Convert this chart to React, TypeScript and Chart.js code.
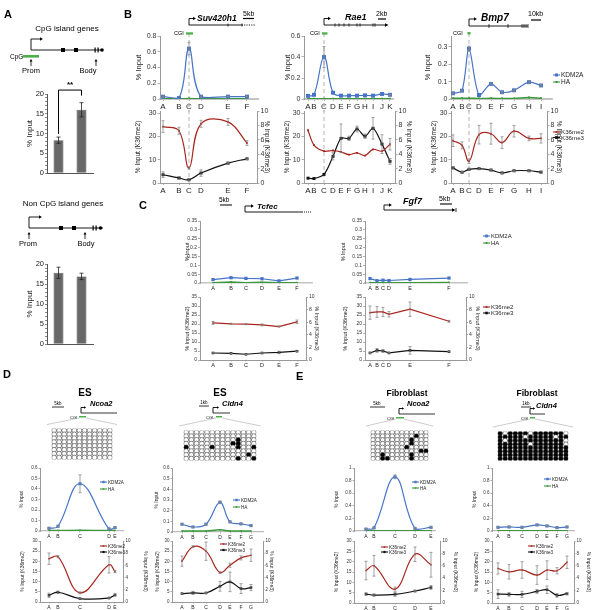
import React, { useEffect, useRef } from 'react';
import { Chart, registerables } from 'chart.js';

Chart.register(...registerables);

const FONT = '"Liberation Sans", Arial, Helvetica, sans-serif';
const BLUE = '#4674c8';
const GREEN = '#3a9a3a';
const CGI_GREEN = '#4daf4a';
const RED = '#a9261e';
const BLACK = '#111111';
const AXIS = '#9a9a9a';
const ERR = '#8a8a8a';

// ---------------- Panel A data ----------------
const barCats = ['Prom', 'Body'];
const barTicks = [0, 1, 2, 3, 4, 5, 6, 7, 8, 9, 10, 11, 12, 13, 14, 15, 16, 17, 18, 19, 20];
const cpgInput = [8.3, 16.0];
const cpgInputErr = [0.8, 1.8];
const cpgSig = { from: 0, to: 1, top: 21, leftEnd: 9.9, rightEnd: 19.6, text: '**' };
const nonCpgInput = [17.8, 16.9];
const nonCpgInputErr = [1.4, 0.8];

// ---------------- Panel B data ----------------
const suvLabels = ['A', 'B', 'C', 'D', 'E', 'F'];
const suvPos = [0.3, 1.9, 2.9, 4.1, 6.8, 8.7];
const suvKDM2A = [0.03, 0.012, 0.64, 0.03, 0.03, 0.03];
const suvKDM2AErr = [0.01, 0, 0.08, 0.01, 0.005, 0.005];
const suvHA = [0.004, 0.003, 0.005, 0.003, 0.003, 0.003];
const suvK36me2 = [24.3, 22.5, 6.5, 25.5, 26.3, 17.2];
const suvK36me2Err = [2.5, 1.5, 0.5, 1.5, 1.5, 1];
const suvK36me3 = [1.15, 0.7, 0.46, 1.38, 2.76, 3.36];
const suvK36me3Err = [0.4, 0.2, 0.15, 0.45, 0.1, 0.1];

const raeLabels = ['A', 'B', 'C', 'D', 'E', 'F', 'G', 'H', 'I', 'J', 'K'];
const raePos = [0.4, 1.0, 2.0, 2.9, 3.7, 4.5, 5.3, 6.1, 6.9, 7.8, 8.6];
const raeKDM2A = [0.03, 0.04, 0.4, 0.06, 0.032, 0.032, 0.032, 0.035, 0.032, 0.048, 0.04];
const raeKDM2AErr = [0, 0, 0.1, 0, 0, 0, 0, 0, 0, 0, 0.005];
const raeHA = [0.003, 0.003, 0.003, 0.003, 0.003, 0.003, 0.003, 0.003, 0.003, 0.003, 0.003];
const raeK36me2 = [22.7, 16.3, 13.7, 14, 13.4, 12.2, 13, 11.8, 14.5, 13.7, 16.7];
const raeK36me2Err = [0, 0, 0, 0, 0, 0, 0, 0, 0, 0, 2.5];
const raeK36me3 = [0.67, 0.62, 1.2, 3.7, 6.2, 6.2, 7.5, 6.5, 7.6, 5.4, 3.0];
const raeK36me3Err = [0, 0, 0, 0.5, 2, 0.3, 0.4, 0.3, 1.5, 1.3, 0.4];

const bmpLabels = ['A', 'B', 'C', 'D', 'E', 'F', 'G', 'H', 'I'];
const bmpPos = [0.2, 1.1, 1.8, 2.8, 4.0, 5.1, 6.3, 7.8, 9.0];
const bmpKDM2A = [0.033, 0.048, 0.29, 0.023, 0.087, 0.039, 0.05, 0.097, 0.078];
const bmpKDM2AErr = [0.005, 0.006, 0.015, 0, 0.005, 0.005, 0.007, 0.008, 0.005];
const bmpHA = [0.004, 0.004, 0.005, 0.003, 0.004, 0.003, 0.003, 0.008, 0.004];
const bmpK36me2 = [18.2, 16.2, 9.4, 20.8, 21.2, 17.4, 22.3, 19.2, 19.2];
const bmpK36me2Err = [2.5, 1.5, 1, 4, 4.5, 2.5, 2.5, 1, 2];
const bmpK36me3 = [2.1, 1.5, 1.9, 2.0, 1.8, 1.4, 1.7, 1.7, 1.5];
const bmpK36me3Err = [0.15, 0.1, 0.1, 0.1, 0.1, 0.1, 0.1, 0.1, 0.15];

// ---------------- Panel C data ----------------
const tcfLabels = ['A', 'B', 'C', 'D', 'E', 'F'];
const tcfPos = [1.3, 3.1, 4.6, 6.2, 7.9, 9.7];
const tcfKDM2A = [0.019, 0.03, 0.026, 0.024, 0.012, 0.028];
const tcfHA = [0.001, 0.006, 0.001, 0.004, 0.002, 0.002];
const tcfK36me2 = [20.6, 20.1, 19.9, 19.5, 18.6, 21.2];
const tcfK36me2Err = [0.8, 0.3, 0.3, 0.5, 0.3, 1];
const tcfK36me3 = [1.11, 1.06, 0.91, 1.11, 1.2, 1.4];
const tcfK36me3Err = [0.05, 0.05, 0.05, 0.05, 0.2, 0.05];

const fgfLabels = ['A', 'B', 'C', 'D', 'E', 'F'];
const fgfPos = [0.5, 1.2, 1.8, 2.4, 4.5, 8.4];
const fgfKDM2A = [0.025, 0.013, 0.016, 0.014, 0.02, 0.028];
const fgfHA = [0.002, 0.002, 0.002, 0.002, 0.002, 0.003];
const fgfK36me2 = [26.3, 26.7, 26.7, 25.4, 28.2, 21.5];
const fgfK36me2Err = [3.7, 3, 2.5, 1.5, 4, 0.5];
const fgfK36me3 = [1.12, 1.53, 1.43, 1.12, 1.53, 1.32];
const fgfK36me3Err = [0.1, 0.3, 0.2, 0.05, 0.6, 0.05];

// ---------------- Panel D / E data ----------------
const ncoaLabels = ['A', 'B', 'C', 'D', 'E'];
const cldnLabels = ['A', 'B', 'C', 'D', 'E', 'F', 'G'];

const esNcoaPos = [0.9, 1.8, 4.0, 6.9, 7.5];
const esNcoaKDM2A = [0.026, 0.045, 0.45, 0.02, 0.032];
const esNcoaKDM2AErr = [0.005, 0.005, 0.085, 0.003, 0.005];
const esNcoaHA = [0.005, 0.005, 0.006, 0.005, 0.005];
const esNcoaK36me2 = [21.3, 22.3, 4.5, 18.3, 15];
const esNcoaK36me2Err = [2.8, 0.5, 0.5, 4, 0.5];
const esNcoaK36me3 = [1.1, 1.6, 0.55, 0.65, 1.15];
const esNcoaK36me3Err = [0.35, 0.2, 0.05, 0.05, 0.2];
const esNcoaMeth = [
  '000000000000',
  '000000000000',
  '000000000000',
  '000000000000',
  '000000000000',
  '000000000000',
  '000000000000',
  '000000000000',
];

const esCldnPos = [1.0, 2.1, 3.4, 4.8, 5.8, 6.9, 7.9];
const esCldnKDM2A = [0.073, 0.047, 0.073, 0.278, 0.095, 0.076, 0.06];
const esCldnKDM2AErr = [0.005, 0.005, 0.005, 0.012, 0.005, 0.005, 0.005];
const esCldnHA = [0.01, 0.01, 0.01, 0.02, 0.01, 0.01, 0.01];
const esCldnK36me2 = [20.1, 27.2, 25, 14.5, 18.1, 21.7, 23];
const esCldnK36me2Err = [2.5, 0.5, 4.5, 0.5, 1, 1, 3];
const esCldnK36me3 = [1.37, 1.5, 1.48, 2.58, 3.3, 2.2, 2.36];
const esCldnK36me3Err = [0.1, 0.25, 0.1, 0.8, 1.6, 0.8, 0.5];
const esCldnMeth = [
  '00000000000000',
  '00000000000000',
  '00000000001000',
  '00000000011000',
  '10000100001001',
  '00000000000000',
  '00000000000010',
  '00000000001001',
];

const fbNcoaPos = [1.2, 2.0, 4.1, 6.1, 7.7];
const fbNcoaKDM2A = [0.03, 0.05, 0.86, 0.04, 0.058];
const fbNcoaKDM2AErr = [0.01, 0.01, 0.03, 0.01, 0.01];
const fbNcoaHA = [0.003, 0.003, 0.003, 0.003, 0.003];
const fbNcoaK36me2 = [15.7, 18, 6.7, 23.6, 18.5];
const fbNcoaK36me2Err = [4.5, 5, 1, 3.5, 6];
const fbNcoaK36me3 = [1.44, 1.28, 1.39, 1.93, 2.5];
const fbNcoaK36me3Err = [0.2, 0.15, 0.3, 0.1, 0.3];
const fbNcoaMeth = [
  '000000000000',
  '000000000100',
  '000000001000',
  '000000001000',
  '000000010000',
  '000000000011',
  '001000001000',
  '001100001000',
];

const fbCldnPos = [0.6, 1.7, 3.0, 4.5, 5.5, 6.5, 7.5];
const fbCldnKDM2A = [0.058, 0.064, 0.058, 0.096, 0.08, 0.053, 0.064];
const fbCldnKDM2AErr = [0.01, 0.005, 0.005, 0.01, 0.01, 0.01, 0.005];
const fbCldnHA = [0.005, 0.005, 0.005, 0.005, 0.005, 0.005, 0.005];
const fbCldnK36me2 = [16.7, 15.1, 16, 13.5, 15.9, 15.6, 19.7];
const fbCldnK36me2Err = [2.7, 3.5, 4, 4.5, 4.5, 1.5, 3];
const fbCldnK36me3 = [1.44, 1.39, 1.39, 1.87, 2.14, 1.23, 1.5];
const fbCldnK36me3Err = [0.7, 0.3, 0.5, 0.3, 0.6, 0.3, 0.2];
const fbCldnMeth = [
  '10111101111110',
  '11111011111011',
  '10111111111110',
  '11111101111110',
  '11111111111111',
  '11111111111111',
  '11111111111111',
  '11111111111111',
];

// tick label arrays
const ticksB_suv = [0, 0.2, 0.4, 0.6, 0.8];
const ticksB_rae = [0, 0.2, 0.4, 0.6];
const ticksB_bmp = [0, 0.1, 0.2, 0.3];
const ticksB_left = [0, 10, 20, 30];
const ticksRight10 = [0, 2, 4, 6, 8, 10];
const ticksC_top = [0, 0.05, 0.1, 0.15, 0.2, 0.25, 0.3, 0.35];
const ticksC_left = [0, 5, 10, 15, 20, 25, 30, 35];
const ticksD_top06 = [0, 0.1, 0.2, 0.3, 0.4, 0.5, 0.6];
const ticksD_top1 = [0, 0.2, 0.4, 0.6, 0.8, 1];
const ticksD_left = [0, 5, 10, 15, 20, 25, 30];

// ---------------- plugins ----------------
const errorBars = {
  id: 'errorBars',
  afterDatasetsDraw(chart: any) {
    const ctx = chart.ctx;
    chart.data.datasets.forEach((ds: any, di: number) => {
      if (!ds.errors) return;
      const meta = chart.getDatasetMeta(di);
      const sc = chart.scales[meta.yAxisID];
      ctx.save();
      ctx.strokeStyle = ds.errorColor || ERR;
      ctx.lineWidth = ds.errorWidth || 0.8;
      const cap = ds.errorCap ?? 1.5;
      meta.data.forEach((el: any, i: number) => {
        const e = ds.errors[i];
        if (!e) return;
        const raw = ds.data[i];
        const v = typeof raw === 'number' ? raw : raw.y;
        const x = el.x;
        const ya = sc.getPixelForValue(v - e);
        const yb = sc.getPixelForValue(v + e);
        ctx.beginPath();
        ctx.moveTo(x, ya);
        ctx.lineTo(x, yb);
        ctx.moveTo(x - cap, ya);
        ctx.lineTo(x + cap, ya);
        ctx.moveTo(x - cap, yb);
        ctx.lineTo(x + cap, yb);
        ctx.stroke();
      });
      ctx.restore();
    });
  },
};

const vLine = {
  id: 'vLine',
  beforeDatasetsDraw(chart: any, _a: any, opts: any) {
    if (!opts || opts.value == null) return;
    const x = chart.scales.x.getPixelForValue(opts.value);
    const ctx = chart.ctx;
    ctx.save();
    ctx.strokeStyle = '#b4b4b4';
    ctx.lineWidth = 1;
    ctx.setLineDash([4, 3]);
    ctx.beginPath();
    ctx.moveTo(x, opts.fromTop ? 0 : chart.chartArea.top - 3);
    ctx.lineTo(x, opts.toBottom ? chart.height : chart.chartArea.bottom);
    ctx.stroke();
    ctx.restore();
  },
};

const bracket = {
  id: 'bracket',
  afterDatasetsDraw(chart: any, _a: any, opts: any) {
    if (!opts || opts.top == null) return;
    const meta = chart.getDatasetMeta(0);
    const xa = meta.data[opts.from].x;
    const xb = meta.data[opts.to].x;
    const y = chart.scales.y;
    const yt = y.getPixelForValue(opts.top);
    const yl = y.getPixelForValue(opts.leftEnd);
    const yr = y.getPixelForValue(opts.rightEnd);
    const ctx = chart.ctx;
    ctx.save();
    ctx.strokeStyle = '#000';
    ctx.lineWidth = 1;
    ctx.beginPath();
    ctx.moveTo(xa, yl);
    ctx.lineTo(xa, yt);
    ctx.lineTo(xb, yt);
    ctx.lineTo(xb, yr);
    ctx.stroke();
    ctx.fillStyle = '#000';
    ctx.font = `bold 8px ${FONT}`;
    ctx.textAlign = 'center';
    ctx.textBaseline = 'bottom';
    ctx.fillText(opts.text, (xa + xb) / 2, yt - 1);
    ctx.restore();
  },
};

function fmt(v: number) {
  return String(Math.round(v * 1000) / 1000);
}

function mkSeries(label: string, pos: number[], values: number[], errors: number[] | null, color: string, radius: number, axis: string, tension: number, width: number) {
  return {
    label,
    data: pos.map((x, i) => ({ x, y: values[i] })),
    errors,
    borderColor: color,
    backgroundColor: color,
    pointBackgroundColor: color,
    pointBorderColor: color,
    pointBorderWidth: 0,
    pointStyle: 'rect',
    pointRadius: radius,
    borderWidth: width,
    tension,
    yAxisID: axis,
    fill: false,
  };
}

function topSets(pos: number[], k: number[], kErr: number[] | null, ha: number[], tension: number, kr: number, hr: number) {
  return [
    mkSeries('KDM2A', pos, k, kErr, BLUE, kr, 'y', tension, 1.2),
    mkSeries('HA', pos, ha, null, GREEN, hr, 'y', tension, 1.5),
  ];
}

function botSets(pos: number[], m2: number[], m2e: number[], m3: number[], m3e: number[], tension: number, r2: number, r3: number) {
  return [
    mkSeries('K36me2', pos, m2, m2e, RED, r2, 'y', tension, 1.2),
    mkSeries('K36me3', pos, m3, m3e, BLACK, r3, 'y1', tension, 1.2),
  ];
}

function lineConfig(s: any) {
  const hasR = !!s.rTicks;
  const tickFont = { family: FONT, size: s.tickSize };
  const gridY = { display: true, drawOnChartArea: false, drawTicks: true, tickLength: s.yTickLen ?? 2, color: AXIS, lineWidth: 0.8 };
  const scales: any = {
    x: {
      type: 'linear',
      min: 0,
      max: s.xMax,
      afterBuildTicks: (sc: any) => {
        sc.ticks = s.xPos.map((v: number) => ({ value: v }));
      },
      afterFit: (sc: any) => {
        sc.height = s.padB;
      },
      ticks: {
        autoSkip: false,
        maxRotation: 0,
        minRotation: 0,
        padding: 1,
        color: '#222',
        font: { family: FONT, size: s.xTickSize },
        callback: (_v: any, i: number) => s.xLabels[i],
      },
      grid: { display: true, drawOnChartArea: false, drawTicks: true, tickLength: s.xTickLen ?? 2, color: AXIS, lineWidth: 0.8 },
      border: { display: true, color: s.xBorderColor ?? AXIS, width: s.xBorderWidth ?? 1 },
    },
    y: {
      type: 'linear',
      position: 'left',
      min: 0,
      max: s.yMax,
      afterBuildTicks: (sc: any) => {
        sc.ticks = s.yTicks.map((v: number) => ({ value: v }));
      },
      afterFit: (sc: any) => {
        sc.width = s.padL;
      },
      ticks: { autoSkip: false, padding: 1, color: '#333', font: tickFont, callback: (v: number) => fmt(v) },
      grid: gridY,
      border: { display: true, color: AXIS, width: 1 },
      title: { display: true, text: s.yTitle, padding: 0, color: '#222', font: { family: FONT, size: s.titleSize } },
    },
  };
  if (hasR) {
    scales.y1 = {
      type: 'linear',
      position: 'right',
      min: 0,
      max: s.rMax,
      afterBuildTicks: (sc: any) => {
        sc.ticks = s.rTicks.map((v: number) => ({ value: v }));
      },
      afterFit: (sc: any) => {
        sc.width = s.padR;
      },
      ticks: { autoSkip: false, padding: 1, color: '#333', font: tickFont, callback: (v: number) => fmt(v) },
      grid: gridY,
      border: { display: true, color: AXIS, width: 1 },
      title: { display: true, text: s.rTitle, padding: 0, color: '#222', font: { family: FONT, size: s.titleSize } },
    };
  }
  return {
    type: 'line',
    data: { datasets: s.datasets },
    options: {
      responsive: false,
      animation: false,
      devicePixelRatio: 1,
      events: [],
      layout: { padding: { top: s.padT, left: 0, right: hasR ? 0 : s.padR, bottom: 0 } },
      plugins: { legend: { display: false }, tooltip: { enabled: false }, vLine: s.vline ?? {} },
      scales,
    },
    plugins: [errorBars, vLine],
  };
}

function barConfig(s: any) {
  return {
    type: 'bar',
    data: {
      labels: barCats,
      datasets: [
        {
          data: s.values,
          errors: s.errors,
          errorColor: '#222',
          errorCap: 2,
          errorWidth: 0.8,
          backgroundColor: '#686868',
          borderColor: '#3c3c3c',
          borderWidth: 0.6,
          barPercentage: 0.43,
          categoryPercentage: 1,
        },
      ],
    },
    options: {
      responsive: false,
      animation: false,
      devicePixelRatio: 1,
      events: [],
      layout: { padding: { top: s.padT, left: 0, right: s.padR, bottom: 0 } },
      plugins: { legend: { display: false }, tooltip: { enabled: false }, bracket: s.bracket ?? {} },
      scales: {
        x: {
          afterFit: (sc: any) => {
            sc.height = s.padB;
          },
          ticks: { padding: 2, color: '#222', font: { family: FONT, size: 7.5 } },
          grid: { display: false },
          border: { display: true, color: '#555', width: 1 },
        },
        y: {
          min: 0,
          max: 20,
          afterBuildTicks: (sc: any) => {
            sc.ticks = barTicks.map((v) => ({ value: v }));
          },
          afterFit: (sc: any) => {
            sc.width = s.padL;
          },
          ticks: { autoSkip: false, padding: 1, color: '#222', font: { family: FONT, size: 7.5 }, callback: (v: number) => (v % 5 === 0 ? String(v) : '') },
          grid: { display: true, drawOnChartArea: false, drawTicks: true, tickLength: 2, color: '#555', lineWidth: 0.7 },
          border: { display: true, color: '#555', width: 1 },
          title: { display: true, text: '% Input', padding: 0, color: '#222', font: { family: FONT, size: 8 } },
        },
      },
    },
    plugins: [errorBars, bracket],
  };
}

function methConfig(rows: string[], r: number) {
  const cols = rows[0].length;
  const pts: any[] = [];
  const fills: string[] = [];
  rows.forEach((row, ri) => {
    row.split('').forEach((ch, ci) => {
      pts.push({ x: ci, y: ri });
      fills.push(ch === '1' ? '#000' : '#fff');
    });
  });
  return {
    type: 'scatter',
    data: {
      datasets: [
        {
          data: pts,
          pointRadius: r,
          pointBackgroundColor: fills,
          pointBorderColor: '#333',
          pointBorderWidth: 0.55,
          pointStyle: 'circle',
        },
      ],
    },
    options: {
      responsive: false,
      animation: false,
      devicePixelRatio: 1,
      events: [],
      layout: { padding: 0 },
      plugins: { legend: { display: false }, tooltip: { enabled: false } },
      scales: {
        x: { type: 'linear', display: false, min: -0.5, max: cols - 0.5 },
        y: { type: 'linear', display: false, reverse: true, min: -0.5, max: rows.length - 0.5 },
      },
    },
  };
}

function ChartCanvas({ make, left, top, width, height }: any) {
  const ref = useRef<HTMLCanvasElement | null>(null);
  useEffect(() => {
    if (!ref.current) return;
    const chart = new Chart(ref.current, make());
    return () => chart.destroy();
  }, []);
  return (
    <canvas
      ref={ref}
      width={Math.round(width)}
      height={Math.round(height)}
      style={{ position: 'absolute', left, top, width: Math.round(width), height: Math.round(height) }}
    />
  );
}

function LinePlot({ s }: any) {
  const left = s.x0 - s.padL;
  const top = s.y0 - s.padT;
  const width = s.padL + (s.x1 - s.x0) + s.padR;
  const height = s.padT + (s.y1 - s.y0) + s.padB;
  return <ChartCanvas make={() => lineConfig(s)} left={left} top={top} width={width} height={height} />;
}

function BarPlot({ s }: any) {
  const left = s.x0 - s.padL;
  const top = s.y0 - s.padT;
  const width = s.padL + (s.x1 - s.x0) + s.padR;
  const height = s.padT + (s.y1 - s.y0) + s.padB;
  return <ChartCanvas make={() => barConfig(s)} left={left} top={top} width={width} height={height} />;
}

function MethPlot({ rows, left, top, width, height, r }: any) {
  return <ChartCanvas make={() => methConfig(rows, r)} left={left} top={top} width={width} height={height} />;
}

// ---------------- chart specs ----------------
const bBase = { tickSize: 7, xTickSize: 8, padT: 8, padB: 13, xTickLen: 2, yTickLen: 2.5 };
const bTopBase = { ...bBase, y0: 36, y1: 99, padR: 6, titleSize: 7.5, yTitle: '% Input', xBorderColor: '#c4c4c4', xBorderWidth: 2 };
const bBotBase = { ...bBase, y0: 111, y1: 183, titleSize: 6.5, yMax: 31, yTicks: ticksB_left, yTitle: '% Input (K36me2)', rMax: 10, rTicks: ticksRight10, rTitle: '% Input (K36me3)' };

const suvTop = { ...bTopBase, x0: 160, x1: 258, padL: 26, xMax: 9.8, xPos: suvPos, xLabels: suvLabels, yMax: 0.8, yTicks: ticksB_suv, datasets: topSets(suvPos, suvKDM2A, suvKDM2AErr, suvHA, 0.4, 2.8, 1.4), vline: { value: suvPos[2], toBottom: true } };
const suvBot = { ...bBotBase, x0: 160, x1: 257, padL: 26, padR: 14, xMax: 9.7, xPos: suvPos, xLabels: suvLabels, datasets: botSets(suvPos, suvK36me2, suvK36me2Err, suvK36me3, suvK36me3Err, 0.4, 1.3, 2.1), vline: { value: suvPos[2], fromTop: true } };
const raeTop = { ...bTopBase, x0: 304, x1: 393, padL: 21, xMax: 8.9, xPos: raePos, xLabels: raeLabels, yMax: 0.6, yTicks: ticksB_rae, datasets: topSets(raePos, raeKDM2A, raeKDM2AErr, raeHA, 0.4, 2.8, 1.4), vline: { value: raePos[2], toBottom: true } };
const raeBot = { ...bBotBase, x0: 304, x1: 395, padL: 21, padR: 18, xMax: 9.1, xPos: raePos, xLabels: raeLabels, datasets: botSets(raePos, raeK36me2, raeK36me2Err, raeK36me3, raeK36me3Err, 0.3, 1.3, 2.1), vline: { value: raePos[2], fromTop: true } };
const bmpTop = { ...bTopBase, x0: 451, x1: 552, padL: 28, xMax: 10.1, xPos: bmpPos, xLabels: bmpLabels, yMax: 0.363, yTicks: ticksB_bmp, datasets: topSets(bmpPos, bmpKDM2A, bmpKDM2AErr, bmpHA, 0.3, 2.8, 1.4), vline: { value: bmpPos[2], toBottom: true } };
const bmpBot = { ...bBotBase, x0: 451, x1: 547, padL: 21, padR: 16, xMax: 9.6, xPos: bmpPos, xLabels: bmpLabels, datasets: botSets(bmpPos, bmpK36me2, bmpK36me2Err, bmpK36me3, bmpK36me3Err, 0.4, 1.3, 2.1), vline: { value: bmpPos[2], fromTop: true } };

const cBase = { tickSize: 5, xTickSize: 5.5, padT: 6, padB: 9, titleSize: 5.5, xTickLen: 1.5, yTickLen: 2 };
const cTopBase = { ...cBase, y0: 221, y1: 283, padR: 6, yMax: 0.35, yTicks: ticksC_top, yTitle: '% Input', xBorderColor: '#c4c4c4', xBorderWidth: 1.5 };
const cBotBase = { ...cBase, y0: 297, y1: 360, yMax: 35, yTicks: ticksC_left, yTitle: '% Input (K36me2)', rMax: 10, rTicks: ticksRight10, rTitle: '% Input (K36me3)' };
const tcfTop = { ...cTopBase, x0: 200, x1: 312, padL: 16, xMax: 11.2, xPos: tcfPos, xLabels: tcfLabels, datasets: topSets(tcfPos, tcfKDM2A, null, tcfHA, 0, 2.3, 1.2) };
const tcfBot = { ...cBotBase, x0: 200, x1: 306, padL: 16, padR: 14, xMax: 10.6, xPos: tcfPos, xLabels: tcfLabels, datasets: botSets(tcfPos, tcfK36me2, tcfK36me2Err, tcfK36me3, tcfK36me3Err, 0, 1.1, 1.8) };
const fgfTop = { ...cTopBase, x0: 365, x1: 467, padL: 25, xMax: 10.2, xPos: fgfPos, xLabels: fgfLabels, datasets: topSets(fgfPos, fgfKDM2A, null, fgfHA, 0, 2.3, 1.2) };
const fgfBot = { ...cBotBase, x0: 365, x1: 466, padL: 23, padR: 15, xMax: 10.1, xPos: fgfPos, xLabels: fgfLabels, datasets: botSets(fgfPos, fgfK36me2, fgfK36me2Err, fgfK36me3, fgfK36me3Err, 0, 1.1, 1.8) };

const dBase = { tickSize: 4.5, xTickSize: 5, padT: 6, padB: 8, titleSize: 5, xTickLen: 1.5, yTickLen: 1.5 };
const dTopBase = { ...dBase, y0: 468, padR: 6, yTitle: '% Input', xBorderColor: '#bbbbbb', xBorderWidth: 1.2 };
const dBotBase = { ...dBase, y0: 541, yMax: 30, yTicks: ticksD_left, yTitle: '% Input (K36me2)', rMax: 10, rTicks: ticksRight10, rTitle: '% Input (K36me3)' };

const esNcoaTop = { ...dTopBase, x0: 40, x1: 123, y1: 531, padL: 21, xMax: 8.3, xPos: esNcoaPos, xLabels: ncoaLabels, yMax: 0.6, yTicks: ticksD_top06, datasets: topSets(esNcoaPos, esNcoaKDM2A, esNcoaKDM2AErr, esNcoaHA, 0.4, 2.2, 1.1) };
const esNcoaBot = { ...dBotBase, x0: 40, x1: 123, y1: 602, padL: 20, padR: 25, xMax: 8.3, xPos: esNcoaPos, xLabels: ncoaLabels, datasets: botSets(esNcoaPos, esNcoaK36me2, esNcoaK36me2Err, esNcoaK36me3, esNcoaK36me3Err, 0.4, 1.1, 1.8) };
const esCldnTop = { ...dTopBase, x0: 172, x1: 263, y1: 532, padL: 18, xMax: 9.1, xPos: esCldnPos, xLabels: cldnLabels, yMax: 0.6, yTicks: ticksD_top06, datasets: topSets(esCldnPos, esCldnKDM2A, esCldnKDM2AErr, esCldnHA, 0.4, 2.2, 1.1) };
const esCldnBot = { ...dBotBase, x0: 172, x1: 263, y1: 602, padL: 17, padR: 11, xMax: 9.1, xPos: esCldnPos, xLabels: cldnLabels, datasets: botSets(esCldnPos, esCldnK36me2, esCldnK36me2Err, esCldnK36me3, esCldnK36me3Err, 0.4, 1.1, 1.8) };
const fbNcoaTop = { ...dTopBase, x0: 354, x1: 435, y1: 531, padL: 20, xMax: 8.1, xPos: fbNcoaPos, xLabels: ncoaLabels, yMax: 1, yTicks: ticksD_top1, datasets: topSets(fbNcoaPos, fbNcoaKDM2A, fbNcoaKDM2AErr, fbNcoaHA, 0.4, 2.2, 1.1) };
const fbNcoaBot = { ...dBotBase, x0: 354, x1: 440, y1: 603, padL: 20, padR: 18, xMax: 8.6, xPos: fbNcoaPos, xLabels: ncoaLabels, datasets: botSets(fbNcoaPos, fbNcoaK36me2, fbNcoaK36me2Err, fbNcoaK36me3, fbNcoaK36me3Err, 0.4, 1.1, 1.8) };
const fbCldnTop = { ...dTopBase, x0: 492, x1: 574, y1: 531, padL: 20, xMax: 8.2, xPos: fbCldnPos, xLabels: cldnLabels, yMax: 1, yTicks: ticksD_top1, datasets: topSets(fbCldnPos, fbCldnKDM2A, fbCldnKDM2AErr, fbCldnHA, 0.4, 2.2, 1.1) };
const fbCldnBot = { ...dBotBase, x0: 492, x1: 574, y1: 603, padL: 18, padR: 17, xMax: 8.2, xPos: fbCldnPos, xLabels: cldnLabels, datasets: botSets(fbCldnPos, fbCldnK36me2, fbCldnK36me2Err, fbCldnK36me3, fbCldnK36me3Err, 0.4, 1.1, 1.8) };

const cpgBars = { x0: 47, x1: 93, y0: 94, y1: 173, padL: 22, padR: 4, padT: 16, padB: 12, values: cpgInput, errors: cpgInputErr, bracket: cpgSig };
const nonCpgBars = { x0: 47, x1: 93, y0: 264, y1: 344, padL: 22, padR: 4, padT: 6, padB: 12, values: nonCpgInput, errors: nonCpgInputErr };

// ---------------- decorations ----------------
function TSS({ x, yb, yt, x2, s = 1.8 }: any) {
  return (
    <g>
      <polyline points={`${x},${yb} ${x},${yt} ${x2},${yt}`} fill="none" stroke="#000" strokeWidth={0.9} />
      <polygon points={`${x2},${yt - s} ${x2 + s * 1.6},${yt} ${x2},${yt + s}`} fill="#000" />
    </g>
  );
}

function UpArrow({ x, y1, y2 }: any) {
  return (
    <g>
      <line x1={x} y1={y1} x2={x} y2={y2 + 2} stroke="#000" strokeWidth={0.8} />
      <polygon points={`${x - 1.5},${y2 + 2.6} ${x},${y2} ${x + 1.5},${y2 + 2.6}`} fill="#000" />
    </g>
  );
}

function Leg({ x, y, color, label, size, len = 7, mk = 2 }: any) {
  return (
    <g>
      <line x1={x} y1={y} x2={x + len} y2={y} stroke={color} strokeWidth={1.1} />
      <rect x={x + len / 2 - mk / 2} y={y - mk / 2} width={mk} height={mk} fill={color} />
      <text x={x + len + 1} y={y + size * 0.36} fontSize={size} fill="#222">
        {label}
      </text>
    </g>
  );
}

function Decor() {
  const bi = { fontWeight: 'bold', fontStyle: 'italic' } as any;
  return (
    <svg width={606} height={610} style={{ position: 'absolute', left: 0, top: 0, pointerEvents: 'none' }} fontFamily={FONT}>
      {/* panel letters */}
      <text x={4} y={18} fontSize={11} fontWeight="bold">A</text>
      <text x={124} y={18} fontSize={11} fontWeight="bold">B</text>
      <text x={139} y={209} fontSize={11} fontWeight="bold">C</text>
      <text x={3} y={378} fontSize={11} fontWeight="bold">D</text>
      <text x={296} y={380} fontSize={11} fontWeight="bold">E</text>

      {/* Panel A - CpG island genes */}
      <text x={67} y={31} fontSize={8} textAnchor="middle">CpG island genes</text>
      <line x1={31} y1={50} x2={103} y2={50} stroke="#000" strokeWidth={0.9} />
      <TSS x={31} yb={50} yt={39} x2={40} />
      <rect x={61} y={48} width={4} height={4} />
      <rect x={74} y={48} width={4} height={4} />
      <rect x={94.5} y={47.5} width={1.2} height={5} />
      <rect x={97.5} y={47.5} width={1.2} height={5} />
      <circle cx={102} cy={50} r={1.8} />
      <rect x={23} y={55} width={16} height={2.6} fill={CGI_GREEN} />
      <text x={10} y={58.5} fontSize={6.5}>CpG</text>
      <UpArrow x={31} y1={66} y2={59} />
      <UpArrow x={96} y1={66} y2={59} />
      <text x={31} y={73} fontSize={7.5} textAnchor="middle">Prom</text>
      <text x={88} y={73} fontSize={7.5} textAnchor="middle">Body</text>

      {/* Panel A - Non CpG island genes */}
      <text x={63} y={206} fontSize={8} textAnchor="middle">Non CpG island genes</text>
      <line x1={29} y1={228} x2={103} y2={228} stroke="#000" strokeWidth={0.9} />
      <TSS x={29} yb={228} yt={217} x2={39} />
      <rect x={59} y={226} width={4} height={4} />
      <rect x={72} y={226} width={4} height={4} />
      <rect x={92.5} y={225.5} width={1.2} height={5} />
      <rect x={95.5} y={225.5} width={1.2} height={5} />
      <circle cx={100.5} cy={228} r={1.8} />
      <UpArrow x={29} y1={239} y2={232} />
      <UpArrow x={85} y1={239} y2={232} />
      <text x={28} y={246} fontSize={7.5} textAnchor="middle">Prom</text>
      <text x={86} y={246} fontSize={7.5} textAnchor="middle">Body</text>

      {/* Panel B - Suv420h1 */}
      <line x1={189} y1={25} x2={243} y2={25} stroke="#000" strokeWidth={0.9} />
      <line x1={244} y1={25} x2={256} y2={25} stroke="#000" strokeWidth={0.9} strokeDasharray="1.2,1.2" />
      <line x1={228} y1={23.5} x2={228} y2={26.5} stroke="#000" strokeWidth={0.8} />
      <line x1={242} y1={23.5} x2={242} y2={26.5} stroke="#000" strokeWidth={0.8} />
      <TSS x={189} yb={25} yt={18.5} x2={193} />
      <text x={197} y={20.5} fontSize={8.5} {...bi}>Suv420h1</text>
      <text x={243} y={15.5} fontSize={7}>5kb</text>
      <line x1={243} y1={18.5} x2={254} y2={18.5} stroke="#000" strokeWidth={1.2} />
      <text x={174} y={35} fontSize={5.5}>CGI</text>
      <rect x={186} y={32.3} width={7} height={2.3} fill={CGI_GREEN} />

      {/* Panel B - Rae1 */}
      <line x1={324} y1={25} x2={386} y2={25} stroke="#000" strokeWidth={0.9} />
      <polygon points="385,23.3 388.5,25 385,26.7" fill="#000" />
      {[335, 339, 344, 349, 357, 360, 373, 375].map((x) => (
        <line key={x} x1={x} y1={23.3} x2={x} y2={26.7} stroke="#000" strokeWidth={0.7} />
      ))}
      <TSS x={324} yb={25} yt={18.5} x2={328} />
      <text x={345} y={19.5} fontSize={9} {...bi}>Rae1</text>
      <text x={376} y={16} fontSize={7}>2kb</text>
      <line x1={378} y1={19} x2={386} y2={19} stroke="#000" strokeWidth={1.2} />
      <text x={310} y={35} fontSize={5.5}>CGI</text>
      <rect x={322} y={32.3} width={5.5} height={2.3} fill={CGI_GREEN} />

      {/* Panel B - Bmp7 */}
      <line x1={469} y1={26} x2={528} y2={26} stroke="#000" strokeWidth={0.9} />
      {[489, 508, 522, 524, 526, 528].map((x) => (
        <line key={x} x1={x} y1={24} x2={x} y2={28} stroke="#000" strokeWidth={0.7} />
      ))}
      <TSS x={469} yb={26} yt={19} x2={474} />
      <text x={481} y={20.5} fontSize={10} {...bi}>Bmp7</text>
      <text x={528} y={16} fontSize={7}>10kb</text>
      <line x1={531} y1={20} x2={541} y2={20} stroke="#000" strokeWidth={1.2} />
      <text x={453} y={35} fontSize={5.5}>CGI</text>
      <rect x={467.5} y={32} width={3} height={2.5} fill={CGI_GREEN} />

      {/* Panel B legends */}
      <Leg x={553} y={75} color={BLUE} label="KDM2A" size={6.5} mk={3} />
      <Leg x={553} y={82} color={GREEN} label="HA" size={6.5} mk={2} />
      <Leg x={553} y={132} color={RED} label="K36me2" size={6.2} mk={1.8} />
      <Leg x={553} y={137.5} color={BLACK} label="K36me3" size={6.2} mk={2.8} />

      {/* Panel C - Tcfec */}
      <text x={219} y={202} fontSize={6.5}>5kb</text>
      <line x1={220} y1={205} x2={232} y2={205} stroke="#000" strokeWidth={1} />
      <line x1={245} y1={212} x2={303} y2={212} stroke="#000" strokeWidth={0.9} />
      <line x1={304} y1={212} x2={311} y2={212} stroke="#000" strokeWidth={0.9} strokeDasharray="1,1" />
      <TSS x={245} yb={212} yt={206} x2={251} />
      <text x={257} y={208.5} fontSize={8} {...bi}>Tcfec</text>

      {/* Panel C - Fgf7 */}
      <line x1={384} y1={210} x2={454} y2={210} stroke="#000" strokeWidth={0.9} />
      <polygon points="452,208.3 455.5,210 452,211.7" fill="#000" />
      <line x1={456} y1={208} x2={456} y2={212} stroke="#000" strokeWidth={0.8} />
      <TSS x={384} yb={210} yt={205} x2={389} />
      <text x={403} y={204} fontSize={9} {...bi}>Fgf7</text>
      <text x={439} y={201} fontSize={7}>5kb</text>
      <line x1={440} y1={204} x2={452} y2={204} stroke="#000" strokeWidth={1.1} />

      {/* Panel C legends */}
      <Leg x={483} y={236} color={BLUE} label="KDM2A" size={6} mk={2.8} />
      <Leg x={483} y={243} color={GREEN} label="HA" size={6} mk={1.8} />
      <Leg x={483} y={307} color={RED} label="K36me2" size={6} mk={1.8} />
      <Leg x={483} y={313} color={BLACK} label="K36me3" size={6} mk={2.6} />

      {/* Panel D/E titles */}
      <text x={85} y={396} fontSize={10} fontWeight="bold" textAnchor="middle">ES</text>
      <text x={220} y={396} fontSize={10} fontWeight="bold" textAnchor="middle">ES</text>
      <text x={407} y={396} fontSize={8.5} fontWeight="bold" textAnchor="middle">Fibroblast</text>
      <text x={537} y={396} fontSize={8.5} fontWeight="bold" textAnchor="middle">Fibroblast</text>

      {/* ES Ncoa2 gene */}
      <text x={58} y={405} fontSize={4.5} textAnchor="middle">5kb</text>
      <line x1={52} y1={407} x2={64} y2={407} stroke="#000" strokeWidth={0.8} />
      <line x1={81} y1={413} x2={117} y2={413} stroke="#000" strokeWidth={0.8} />
      <TSS x={81} yb={413} yt={407.5} x2={84} s={1.3} />
      <text x={90} y={406} fontSize={7.5} {...bi}>Ncoa2</text>
      <text x={70} y={418.5} fontSize={4}>CGI</text>
      <rect x={79} y={416} width={7} height={1.5} fill={CGI_GREEN} />
      <line x1={79} y1={418} x2={47} y2={424.5} stroke="#aaa" strokeWidth={0.6} />
      <line x1={86} y1={418} x2={117} y2={424.5} stroke="#aaa" strokeWidth={0.6} />

      {/* ES Cldn4 gene */}
      <text x={204} y={404} fontSize={4.5} textAnchor="middle">1kb</text>
      <line x1={199} y1={406} x2={209} y2={406} stroke="#000" strokeWidth={0.8} />
      <line x1={213} y1={413} x2={230} y2={413} stroke="#000" strokeWidth={0.8} />
      <TSS x={213} yb={413} yt={407.5} x2={217} s={1.3} />
      <text x={222} y={406} fontSize={7.5} {...bi}>Cldn4</text>
      <text x={206} y={418.5} fontSize={4}>CGI</text>
      <rect x={216} y={416} width={6} height={1.5} fill={CGI_GREEN} />
      <line x1={216} y1={418} x2={179} y2={426} stroke="#aaa" strokeWidth={0.6} />
      <line x1={222} y1={418} x2={261} y2={426} stroke="#aaa" strokeWidth={0.6} />

      {/* Fib Ncoa2 gene */}
      <text x={377} y={405} fontSize={4.5} textAnchor="middle">5kb</text>
      <line x1={370} y1={407} x2={385} y2={407} stroke="#000" strokeWidth={0.8} />
      <line x1={399} y1={414} x2={435} y2={414} stroke="#000" strokeWidth={0.8} />
      <TSS x={399} yb={414} yt={408.5} x2={402} s={1.3} />
      <text x={407} y={406} fontSize={7.5} {...bi}>Ncoa2</text>
      <text x={387} y={419.5} fontSize={4}>CGI</text>
      <rect x={396} y={417} width={8} height={1.5} fill={CGI_GREEN} />
      <line x1={396} y1={419} x2={366} y2={426} stroke="#aaa" strokeWidth={0.6} />
      <line x1={404} y1={419} x2={433} y2={426} stroke="#aaa" strokeWidth={0.6} />

      {/* Fib Cldn4 gene */}
      <text x={526} y={405} fontSize={4.5} textAnchor="middle">1kb</text>
      <line x1={521} y1={407} x2={531} y2={407} stroke="#000" strokeWidth={0.8} />
      <line x1={530} y1={414} x2={545} y2={414} stroke="#000" strokeWidth={0.8} />
      <TSS x={530} yb={414} yt={408.5} x2={533} s={1.3} />
      <text x={536} y={408} fontSize={7.5} {...bi}>Cldn4</text>
      <text x={521} y={419.5} fontSize={4}>CGI</text>
      <rect x={530} y={417} width={5} height={1.5} fill={CGI_GREEN} />
      <line x1={530} y1={419} x2={493} y2={427} stroke="#aaa" strokeWidth={0.6} />
      <line x1={535} y1={419} x2={573} y2={427} stroke="#aaa" strokeWidth={0.6} />

      {/* D/E legends */}
      <Leg x={100} y={482} color={BLUE} label="KDM2A" size={4.6} mk={2.4} />
      <Leg x={100} y={489} color={GREEN} label="HA" size={4.6} mk={1.5} />
      <Leg x={100} y={546} color={RED} label="K36me2" size={4.6} mk={1.5} />
      <Leg x={100} y={552} color={BLACK} label="K36me3" size={4.6} mk={2.2} />

      <Leg x={233} y={500} color={BLUE} label="KDM2A" size={4.6} mk={2.4} />
      <Leg x={233} y={507} color={GREEN} label="HA" size={4.6} mk={1.5} />
      <Leg x={220} y={544} color={RED} label="K36me2" size={4.6} mk={1.5} />
      <Leg x={220} y={550} color={BLACK} label="K36me3" size={4.6} mk={2.2} />

      <Leg x={412} y={482} color={BLUE} label="KDM2A" size={4.6} mk={2.4} />
      <Leg x={412} y={488} color={GREEN} label="HA" size={4.6} mk={1.5} />
      <Leg x={381} y={547} color={RED} label="K36me2" size={4.6} mk={1.5} />
      <Leg x={381} y={552} color={BLACK} label="K36me3" size={4.6} mk={2.2} />

      <Leg x={544} y={479} color={BLUE} label="KDM2A" size={4.6} mk={2.4} />
      <Leg x={544} y={486} color={GREEN} label="HA" size={4.6} mk={1.5} />
      <Leg x={528} y={546} color={RED} label="K36me2" size={4.6} mk={1.5} />
      <Leg x={528} y={552} color={BLACK} label="K36me3" size={4.6} mk={2.2} />
    </svg>
  );
}

export default function App() {
  return (
    <div style={{ position: 'absolute', left: 0, top: 0, width: 606, height: 610, background: '#fff', overflow: 'hidden', fontFamily: FONT }}>
      <BarPlot s={cpgBars} />
      <BarPlot s={nonCpgBars} />

      <LinePlot s={suvTop} />
      <LinePlot s={suvBot} />
      <LinePlot s={raeTop} />
      <LinePlot s={raeBot} />
      <LinePlot s={bmpTop} />
      <LinePlot s={bmpBot} />

      <LinePlot s={tcfTop} />
      <LinePlot s={tcfBot} />
      <LinePlot s={fgfTop} />
      <LinePlot s={fgfBot} />

      <MethPlot rows={esNcoaMeth} left={47} top={424} width={70} height={40} r={2.4} />
      <MethPlot rows={esCldnMeth} left={179} top={426} width={82} height={39} r={2.4} />
      <MethPlot rows={fbNcoaMeth} left={366} top={426} width={67} height={39} r={2.3} />
      <MethPlot rows={fbCldnMeth} left={493} top={427} width={80} height={38} r={2.3} />

      <LinePlot s={esNcoaTop} />
      <LinePlot s={esNcoaBot} />
      <LinePlot s={esCldnTop} />
      <LinePlot s={esCldnBot} />
      <LinePlot s={fbNcoaTop} />
      <LinePlot s={fbNcoaBot} />
      <LinePlot s={fbCldnTop} />
      <LinePlot s={fbCldnBot} />

      <Decor />
    </div>
  );
}
